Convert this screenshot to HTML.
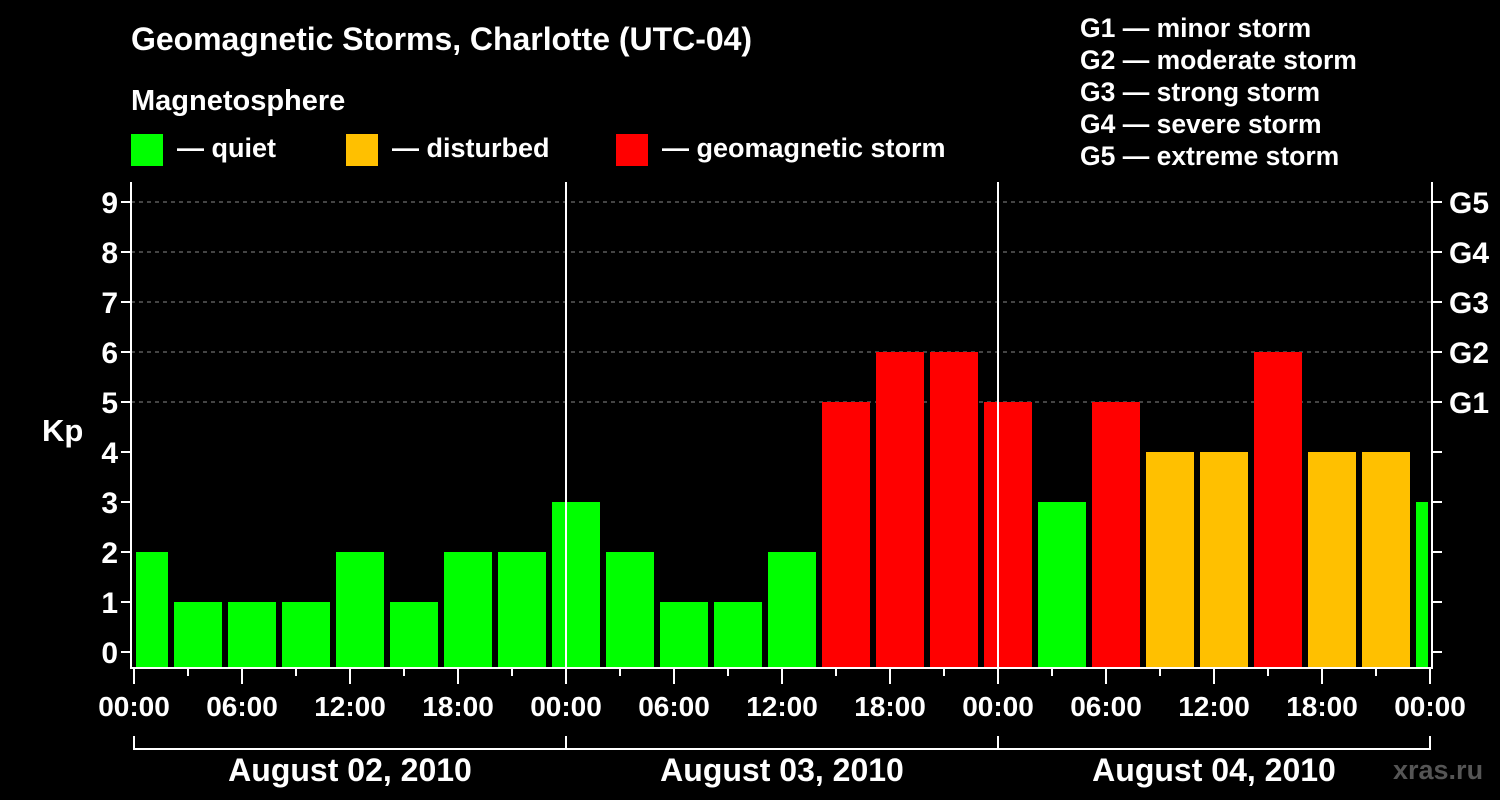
<!DOCTYPE html>
<html><head><meta charset="utf-8"><style>
html,body{margin:0;padding:0;background:#000;}
svg{display:block;font-family:"Liberation Sans",Arial,sans-serif;font-weight:bold;}
</style></head><body>
<svg id="c" width="1500" height="800" xmlns="http://www.w3.org/2000/svg">
<rect width="1500" height="800" fill="#000"/>
<g fill="#fff" font-size="26">
<text x="131" y="50" font-size="32" textLength="621">Geomagnetic Storms, Charlotte (UTC-04)</text>
<text x="131" y="110" font-size="29">Magnetosphere</text>
<rect x="131" y="134" width="32" height="32" fill="#00ff00"/>
<text x="177" y="157" font-size="27">— quiet</text>
<rect x="346" y="134" width="32" height="32" fill="#ffc000"/>
<text x="392" y="157" font-size="27">— disturbed</text>
<rect x="616" y="134" width="32" height="32" fill="#ff0000"/>
<text x="662" y="157" font-size="27">— geomagnetic storm</text>
<text x="1080" y="37" font-size="26.5">G1 — minor storm</text>
<text x="1080" y="69" font-size="26.5">G2 — moderate storm</text>
<text x="1080" y="101" font-size="26.5">G3 — strong storm</text>
<text x="1080" y="133" font-size="26.5">G4 — severe storm</text>
<text x="1080" y="165" font-size="26.5">G5 — extreme storm</text>
<text x="42" y="441" font-size="31">Kp</text>
<text x="1393" y="779" fill="#555" font-size="27">xras.ru</text>
</g>
<g id="plot"></g>
</svg>
<script>
const kpValues=[2,1,1,1,2,1,2,2,3,2,1,1,2,5,6,6,5,3,5,4,4,6,4,4,3];
const yTicks=[0,1,2,3,4,5,6,7,8,9];
const gLabels=["G1","G2","G3","G4","G5"];
const gLevels=[5,6,7,8,9];
const xLabels=["00:00","06:00","12:00","18:00","00:00","06:00","12:00","18:00","00:00","06:00","12:00","18:00","00:00"];
const dateLabels=["August 02, 2010","August 03, 2010","August 04, 2010"];
const NS="http://www.w3.org/2000/svg";
const g=document.getElementById('plot');
const L=131,R=1432,T=182,B=668,X0=134,PXH=18;
const y=v=>652-50*v;
const x=h=>X0+h*PXH;
function mk(t,a,p){const e=document.createElementNS(NS,t);for(const k in a)e.setAttribute(k,a[k]);(p||g).appendChild(e);return e;}
gLevels.forEach((v,i)=>{
 const l=mk('line',{x1:L,x2:R,y1:y(v),y2:y(v),stroke:'#888','stroke-dasharray':'4,4','stroke-width':1});
 
 
 const t=mk('text',{x:1449,y:y(v)+11,fill:'#fff','font-size':30});
 t.textContent=gLabels[i];
 
 
});
kpValues.forEach((v,i)=>{
 let x1=x(3*i-1)+4, x2=x1+48;
 x1=Math.max(x1,136); x2=Math.min(x2,1428);
 const c=v>=5?'#ff0000':(v>=4?'#ffc000':'#00ff00');
 const r=mk('rect',{x:x1,y:y(v),width:x2-x1,height:B-y(v),fill:c});
 
 
});
mk('path',{d:`M${L},${T}V${B}H${R}V${T}`,stroke:'#fff','stroke-width':2,fill:'none'});
[1,2].forEach(d=>{const l=mk('line',{x1:x(24*d),x2:x(24*d),y1:T,y2:B,stroke:'#fff','stroke-width':2});
 
 });
yTicks.forEach(v=>{
 mk('line',{x1:L-10,x2:L,y1:y(v),y2:y(v),stroke:'#fff','stroke-width':2});
 mk('line',{x1:R,x2:R+10,y1:y(v),y2:y(v),stroke:'#fff','stroke-width':2});
 const t=mk('text',{x:L-13,y:y(v)+11,fill:'#fff','font-size':30,'text-anchor':'end'});
 t.textContent=v;
 
 
});
for(let h=0;h<=72;h+=3){
 mk('line',{x1:x(h),x2:x(h),y1:B,y2:B+(h%6==0?16:8),stroke:'#fff','stroke-width':2});
}
xLabels.forEach((s,i)=>{
 const t=mk('text',{x:x(6*i),y:716,fill:'#fff','font-size':28,'text-anchor':'middle'});
 t.textContent=s;
 
 
});
mk('path',{d:`M${x(0)},736V749H${x(72)}V736`,stroke:'#fff','stroke-width':2,fill:'none'});
[1,2].forEach(d=>mk('line',{x1:x(24*d),x2:x(24*d),y1:736,y2:749,stroke:'#fff','stroke-width':2}));
dateLabels.forEach((s,i)=>{
 const t=mk('text',{x:x(24*i+12),y:781,fill:'#fff','font-size':32,'text-anchor':'middle'});
 t.textContent=s;
 
 
});
</script>
</body></html>
